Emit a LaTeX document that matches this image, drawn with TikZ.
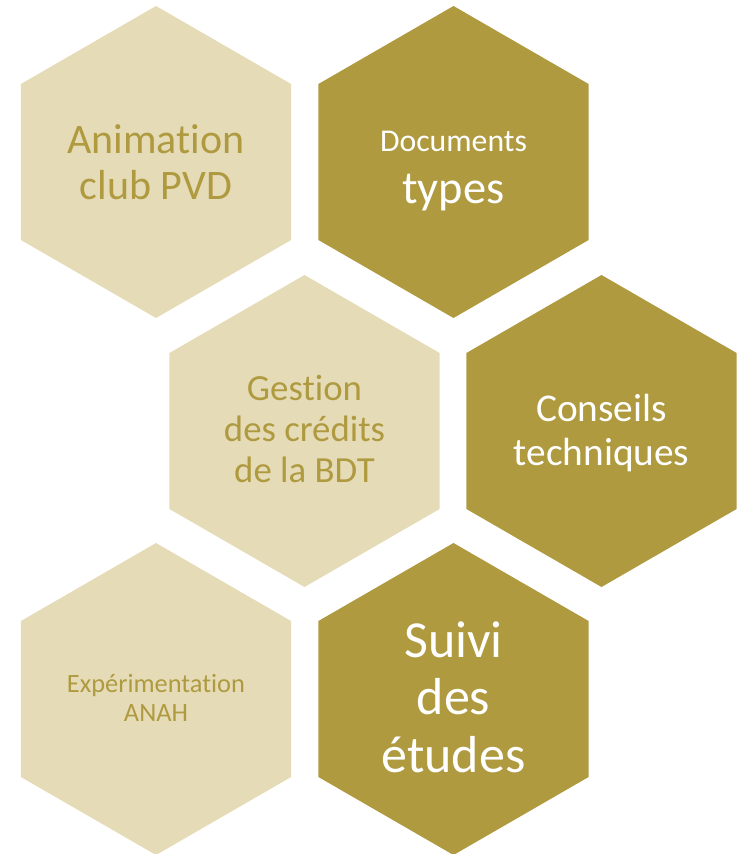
\documentclass[tikz,border=0pt]{standalone}
\usepackage{fontspec}
\setmainfont[Ligatures={NoCommon,NoContextual}]{Carlito}
\definecolor{hexlight}{HTML}{E5DCB7}
\definecolor{hexdark}{HTML}{AF9A40}
\newcommand{\fs}[2]{\fontsize{#1}{#2}\selectfont}

\begin{document}
\begin{tikzpicture}[x=0.75pt,y=-0.75pt,
    lbl/.style={align=center,inner sep=0pt}]
    \useasboundingbox (0,0) rectangle (744,854);
    \foreach \x/\y/\c in {156/162/hexlight, 453.5/162/hexdark,
                          304.5/431/hexlight, 601.5/431/hexdark,
                          156/699/hexlight, 453.5/699/hexdark} {
        \fill[\c, shift={(\x,\y)}] (30:156) -- (90:156) -- (150:156)
            -- (210:156) -- (270:156) -- (330:156) -- cycle;
    }

    \node[lbl, text=hexdark, font=\fs{31.5}{34.5}] (anim) at (156,162) {Animation\\club PVD};
    \node[lbl, text=white, font=\fs{34.8}{39}] (docs) at (453.5,171) {{\fs{23.8}{39}Documents}\\types};
    \node[lbl, text=hexdark, font=\fs{27.6}{30.5}] (gest) at (304.5,429) {Gestion\\des crédits\\de la BDT};
    \node[lbl, text=white, font=\fs{29.5}{33}] (cons) at (601.5,433) {Conseils\\techniques};
    \node[lbl, text=hexdark, font=\fs{19.8}{21.75}] (expe) at (156,698) {Expérimentation\\ANAH};
    \node[lbl, text=white, font=\fs{39}{43}] (suivi) at (453.5,697) {Suivi\\des\\études};
\end{tikzpicture}
\end{document}
